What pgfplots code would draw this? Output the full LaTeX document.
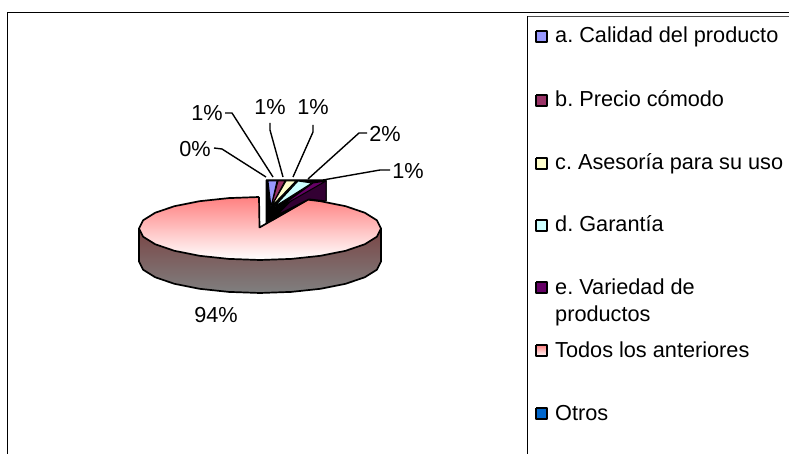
\documentclass[border=0pt]{standalone}
\usepackage{pgfplots}
\usepackage{fontspec}
\setmainfont{Liberation Sans}
\pgfplotsset{compat=1.18}
\frenchspacing
\definecolor{ca}{HTML}{9999FF}
\definecolor{cb}{HTML}{993366}
\definecolor{cc}{HTML}{FFFFCC}
\definecolor{cd}{HTML}{CCFFFF}
\definecolor{ce}{HTML}{660066}
\definecolor{cf}{HTML}{FF8080}
\definecolor{cg}{HTML}{0066CC}
\definecolor{sd}{HTML}{7A4545}
\definecolor{we}{HTML}{330033}
\tikzset{
  tx/.style={font=\fontsize{21.7pt}{24pt}\selectfont, inner sep=0pt},
  leg/.style={draw=black, line width=1.7pt},
}
\begin{document}
\begin{tikzpicture}
\begin{axis}[
  scale only axis, width=789pt, height=454pt,
  xmin=0, xmax=789, ymin=0, ymax=454, y dir=reverse,
  axis lines=none, clip=true, no markers,
  every axis plot/.append style={line join=round},
]
% frame
\addplot[black, line width=1.8pt] coordinates {(7.5,454) (7.5,12.5) (789,12.5)};
\addplot[black, line width=1.5pt] coordinates {(527.5,454) (527.5,16.5)};
\addplot[black!70, line width=1.2pt] coordinates {(527.5,16.5) (789,16.5)};
% pie side
\addplot[draw=black, line width=1.7pt, top color=sd, bottom color=gray] coordinates {
(139,228.5) (139,261.5) (143.1,269.7) (155.2,277.25) (174.4,283.8) (199.5,288.8) (228.7,291.9) (260,293)
(291.3,291.9) (320.5,288.8) (345.6,283.8) (364.8,277.25) (376.9,269.7) (381,261.5) (381,228.5) (139,228.5)};
% pie top: Todos los anteriores
\addplot[draw=black, line width=1.7pt, top color=cf, bottom color=white] coordinates {
(259,197) (228.7,198.1) (199.5,201.2) (174.4,206.2) (155.2,212.75) (143.1,220.3) (139,228.5)
(143.1,236.7) (155.2,244.25) (174.4,250.8) (199.5,255.8) (228.7,258.9) (260,260)
(291.3,258.9) (320.5,255.8) (345.6,250.8) (364.8,244.25) (376.9,236.7) (381,228.5)
(376.9,220.3) (364.8,212.75) (345.6,206.2) (320.5,201.2) (308,199.7) (259.5,227.5) (259,197) (259,197)};
% exploded group: walls
\addplot[draw=black, fill=black, line width=1pt] coordinates {
(266,180) (326,180) (326,201) (309,199) (273,220) (266,223) (266,180)};
\addplot[draw=black, fill=we, line width=1pt] coordinates {
(277,215) (309,199) (326,201) (326,181) (309,183) (277,215)};
% top faces
\addplot[draw=black, fill=ca, line width=1pt] coordinates {(268,181) (277,181) (271,207) (268,181)};
\addplot[draw=black, fill=cb, line width=1pt] coordinates {(278,181) (285,181) (271,207) (278,181)};
\addplot[draw=black, fill=cc, line width=1pt] coordinates {(286,181) (296,181) (271,207) (286,181)};
\addplot[draw=black, fill=cd, line width=1pt] coordinates {(298,181) (312,183) (274,207) (298,181)};
\addplot[draw=black, fill=ce, line width=1pt] coordinates {(313,183) (326,181) (277,209) (313,183)};
% leader lines
\addplot[black, line width=1.4pt] coordinates {(214,148) (222,149) (266,177)};
\addplot[black, line width=1.4pt] coordinates {(225,113) (232,113) (273,177)};
\addplot[black, line width=1.4pt] coordinates {(270,123) (270,130) (283,177)};
\addplot[black, line width=1.4pt] coordinates {(313,125) (313,132) (293,177)};
\addplot[black, line width=1.4pt] coordinates {(367,133) (359,133) (308,179)};
\addplot[black, line width=1.4pt] coordinates {(390,170) (380,170) (323,180)};
% legend swatches
\addplot[leg, fill=ca] coordinates {(536,31) (547,31) (547,42) (536,42) (536,31)};
\addplot[leg, fill=cb] coordinates {(536,95) (547,95) (547,106) (536,106) (536,95)};
\addplot[leg, fill=cc] coordinates {(536,158) (547,158) (547,169) (536,169) (536,158)};
\addplot[leg, fill=cd] coordinates {(536,220) (547,220) (547,231) (536,231) (536,220)};
\addplot[leg, fill=ce] coordinates {(536,282) (547,282) (547,293) (536,293) (536,282)};
\addplot[leg, top color=cf, bottom color=white] coordinates {(536,345) (547,345) (547,356) (536,356) (536,345)};
\addplot[leg, fill=cg] coordinates {(536,408) (547,408) (547,419) (536,419) (536,408)};
% labels
\node[tx] at (axis cs:195,149) {0\%};
\node[tx] at (axis cs:207,113) {1\%};
\node[tx] at (axis cs:270,107) {1\%};
\node[tx] at (axis cs:313,107) {1\%};
\node[tx] at (axis cs:385,134) {2\%};
\node[tx] at (axis cs:408,171) {1\%};
\node[tx] at (axis cs:216,315) {94\%};
\node[tx, anchor=base west] at (axis cs:555,43) {a. Calidad del producto};
\node[tx, anchor=base west] at (axis cs:555,107) {b. Precio cómodo};
\node[tx, anchor=base west] at (axis cs:555,170) {c. Asesoría para su uso};
\node[tx, anchor=base west] at (axis cs:555,232) {d. Garantía};
\node[tx, anchor=base west] at (axis cs:555,294) {e. Variedad de};
\node[tx, anchor=base west] at (axis cs:555,321) {productos};
\node[tx, anchor=base west] at (axis cs:555,357) {Todos los anteriores};
\node[tx, anchor=base west] at (axis cs:555,420) {Otros};
\end{axis}
\path[use as bounding box] (0,0) rectangle (789pt,454pt);
\end{tikzpicture}
\end{document}
